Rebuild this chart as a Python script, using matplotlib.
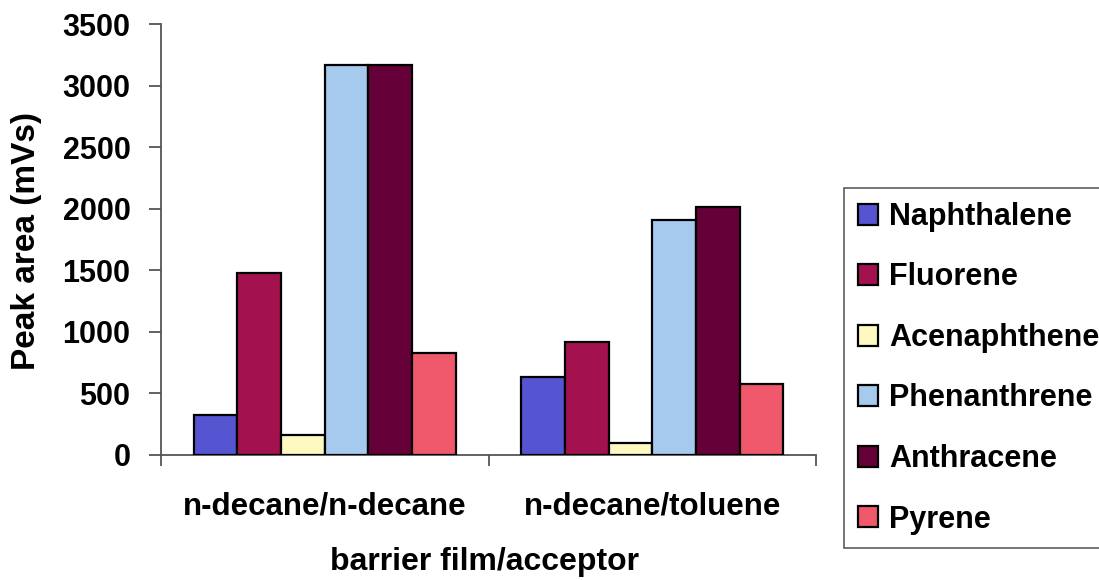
import numpy as np
import matplotlib
matplotlib.use("Agg")
import matplotlib.pyplot as plt
from matplotlib.ticker import FixedLocator, NullFormatter

plt.rcParams['font.family'] = ['Liberation Sans', 'DejaVu Sans']
plt.rcParams['font.weight'] = 'bold'

groups = ['n-decane/n-decane', 'n-decane/toluene']
compounds = ['Naphthalene', 'Fluorene', 'Acenaphthene', 'Phenanthrene', 'Anthracene', 'Pyrene']
naphthalene = [325, 635]
fluorene = [1480, 915]
acenaphthene = [160, 100]
phenanthrene = [3170, 1905]
anthracene = [3170, 2010]
pyrene = [830, 575]
series = [naphthalene, fluorene, acenaphthene, phenanthrene, anthracene, pyrene]
colors = ['#5555d2', '#a3124f', '#fdf9c0', '#a6c9ee', '#660038', '#f0586c']

fig = plt.figure(figsize=(10.99, 5.80), dpi=100)
ax = fig.add_axes([161 / 1099, 125 / 580, 655 / 1099, 431 / 580])

x = np.arange(len(groups))
w = 0.8 / len(series)
for i, (vals, c, name) in enumerate(zip(series, colors, compounds)):
    ax.bar(x - 0.4 + w * (i + 0.5), vals, w, color=c, edgecolor='black',
           linewidth=1.6, label=name, zorder=3)

ax.set_xlim(-0.5, 1.5)
ax.set_ylim(0, 3500)
ax.set_yticks(np.arange(0, 3501, 500))

ax.spines['top'].set_visible(False)
ax.spines['right'].set_visible(False)
for s in ('left', 'bottom'):
    ax.spines[s].set_color('#555555')
    ax.spines[s].set_linewidth(1.3)

ax.set_xticks(x)
ax.set_xticklabels(groups)
ax.tick_params(axis='x', which='major', length=0, pad=26, labelsize=22.5)
ax.xaxis.set_minor_locator(FixedLocator([-0.5, 0.5, 1.5]))
ax.xaxis.set_minor_formatter(NullFormatter())
ax.tick_params(axis='x', which='minor', length=8, width=1.3, color='#555555')
ax.tick_params(axis='y', length=9, width=1.3, color='#555555', labelsize=22, pad=13)

ax.set_ylabel('Peak area (mVs)', fontsize=24, fontweight='bold')
ax.yaxis.set_label_coords(-0.182, 0.497)
ax.set_xlabel('barrier film/acceptor', fontsize=23, fontweight='bold')
ax.xaxis.set_label_coords(0.494, -0.214)

leg = ax.legend(loc='upper left', bbox_to_anchor=(844 / 1099, 1 - 188 / 580),
                bbox_transform=fig.transFigure, fontsize=22, frameon=True,
                fancybox=False, borderaxespad=0, handlelength=0.66,
                handleheight=0.68, handletextpad=0.36, labelspacing=1.0,
                borderpad=0.45)
frame = leg.get_frame()
frame.set_edgecolor('#333333')
frame.set_linewidth(1.2)
for t in leg.get_texts():
    t.set_fontweight('bold')

fig.savefig('out.png', dpi=100, facecolor='white')
